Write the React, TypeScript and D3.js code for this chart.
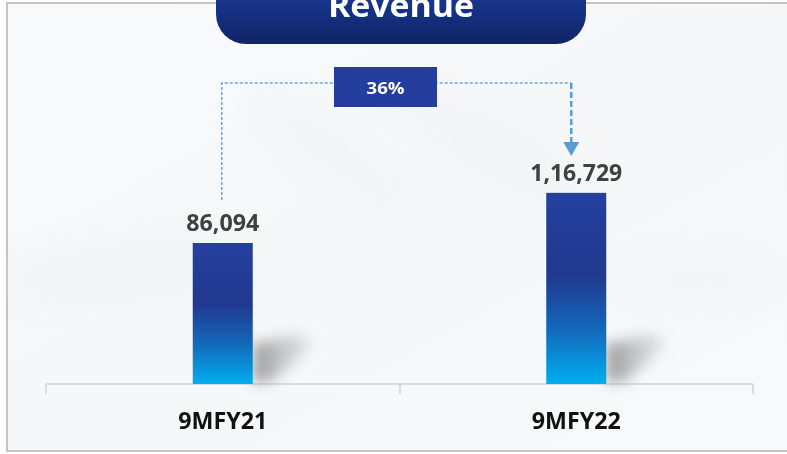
import React from "react";
import * as d3 from "d3";

const categories = ["9MFY21", "9MFY22"];
const revenue = [86094, 116729];
const valueLabels = ["86,094", "1,16,729"];
const growthLabel = "36%";
const title = "Revenue";

const W = 787;
const H = 454;

export default function App() {
  const x = d3.scaleBand<string>().domain(categories).range([46, 753]).padding(0);
  const base = 384;
  const y = d3.scaleLinear().domain([0, 140000]).range([base, base - (141 / 86094) * 140000]);
  const barW = 60;
  const cx = (c: string) => (x(c) as number) + x.bandwidth() / 2;

  const c1 = cx(categories[0]);
  const c2 = cx(categories[1]);
  const lineY = 83;
  const fontStack = "'Open Sans', Lato, 'DejaVu Sans', sans-serif";
  const valueWidths = [73, 92];
  const catWidths = [89, 89];

  return (
    <svg width={W} height={H} style={{ position: "absolute", left: 0, top: 0 }}>
      <defs>
        <linearGradient id="bg" x1="0" y1="0" x2="1" y2="1">
          <stop offset="0" stopColor="#f9fafb" />
          <stop offset="0.5" stopColor="#f6f7f9" />
          <stop offset="1" stopColor="#f8f9fb" />
        </linearGradient>
        <linearGradient id="barGrad" x1="0" y1="0" x2="0" y2="1">
          <stop offset="0" stopColor="#24409f" />
          <stop offset="0.43" stopColor="#21388f" />
          <stop offset="0.7" stopColor="#1466b8" />
          <stop offset="1" stopColor="#00aeef" />
        </linearGradient>
        <linearGradient id="titleGrad" x1="0" y1="0" x2="0" y2="1">
          <stop offset="0" stopColor="#1a3a96" />
          <stop offset="1" stopColor="#0f2466" />
        </linearGradient>
        <linearGradient id="shadowGrad" x1="0" y1="0" x2="1" y2="0">
          <stop offset="0" stopColor="#7a7a7a" stopOpacity={0.75} />
          <stop offset="1" stopColor="#9a9a9a" stopOpacity={0.15} />
        </linearGradient>
        <filter id="blur" x="-50%" y="-50%" width="200%" height="200%">
          <feGaussianBlur stdDeviation="7" />
        </filter>
        <filter id="bigblur" x="-50%" y="-50%" width="200%" height="200%">
          <feGaussianBlur stdDeviation="18" />
        </filter>
      </defs>

      <rect x={0} y={0} width={W} height={H} fill="#ffffff" />
      <rect x={7} y={3} width={800} height={448} fill="url(#bg)" stroke="#c4c4c4" strokeWidth={2} />

      {/* faint background swirls */}
      <g filter="url(#bigblur)" opacity={0.3}>
        <ellipse cx={120} cy={270} rx={120} ry={22} fill="#e4e6ea" transform="rotate(-6 120 270)" />
        <ellipse cx={330} cy={150} rx={90} ry={18} fill="#e8eaee" transform="rotate(35 330 150)" />
        <ellipse cx={480} cy={140} rx={120} ry={16} fill="#e6e8ec" transform="rotate(30 480 140)" />
        <ellipse cx={700} cy={280} rx={80} ry={22} fill="#eceef1" />
      </g>

      {/* title */}
      <path
        d={`M216,-10 L586,-10 L586,14 A30,30 0 0 1 556,44 L246,44 A30,30 0 0 1 216,14 Z`}
        fill="url(#titleGrad)"
      />
      <text
        x={401}
        y={17}
        textAnchor="middle"
        fill="#ffffff"
        fontFamily={fontStack}
        fontWeight={700}
        fontSize={33}
        textLength={146}
        lengthAdjust="spacingAndGlyphs"
      >
        {title}
      </text>

      {/* axis */}
      <g stroke="#d2d2d2" strokeWidth={1.5} fill="none">
        <line x1={46} x2={753} y1={base} y2={base} />
        {[46, 400, 753].map((t) => (
          <line key={t} x1={t} x2={t} y1={base} y2={base + 10} />
        ))}
      </g>

      {/* shadows */}
      {categories.map((c, i) => {
        const r = cx(c) + barW / 2;
        const b = y(0);
        return (
          <polygon
            key={"s" + i}
            points={`${r},${b - 2} ${r},${b - 40} ${r + 48},${b - 50} ${r + 62},${b - 40} ${r + 18},${b - 2}`}
            fill="url(#shadowGrad)"
            filter="url(#blur)"
          />
        );
      })}

      {/* bars */}
      {categories.map((c, i) => (
        <rect
          key={c}
          x={cx(c) - barW / 2}
          y={y(revenue[i])}
          width={barW}
          height={y(0) - y(revenue[i])}
          fill="url(#barGrad)"
        />
      ))}

      {/* value labels */}
      {categories.map((c, i) => (
        <text
          key={"v" + c}
          x={cx(c)}
          y={y(revenue[i]) - 12}
          textAnchor="middle"
          fill="#404040"
          fontFamily={fontStack}
          fontWeight={700}
          fontSize={23}
          textLength={valueWidths[i]}
          lengthAdjust="spacingAndGlyphs"
        >
          {valueLabels[i]}
        </text>
      ))}

      {/* category labels */}
      {categories.map((c, i) => (
        <text
          key={"c" + c}
          x={cx(c)}
          y={429}
          textAnchor="middle"
          fill="#111111"
          fontFamily={fontStack}
          fontWeight={700}
          fontSize={23.5}
          textLength={catWidths[i]}
          lengthAdjust="spacingAndGlyphs"
        >
          {c}
        </text>
      ))}

      {/* growth connector */}
      <path
        d={`M${c1 - 1},${y(revenue[0]) - 43} L${c1 - 1},${lineY} L${c2 - 5},${lineY}`}
        fill="none"
        stroke="#6aa6de"
        strokeWidth={1.5}
        strokeDasharray="3,2"
      />
      <line x1={c2 - 5} x2={c2 - 5} y1={lineY} y2={142} stroke="#5b9bd5" strokeWidth={2.5} strokeDasharray="6,3" />
      <polygon points={`${c2 - 13},142 ${c2 + 3},142 ${c2 - 5},156`} fill="#5b9bd5" />
      <rect x={334} y={67} width={103} height={40} fill="#233e9c" />
      <text
        x={385.5}
        y={94}
        textAnchor="middle"
        fill="#ffffff"
        fontFamily={fontStack}
        fontWeight={700}
        fontSize={16.5}
        textLength={38}
        lengthAdjust="spacingAndGlyphs"
      >
        {growthLabel}
      </text>
    </svg>
  );
}
